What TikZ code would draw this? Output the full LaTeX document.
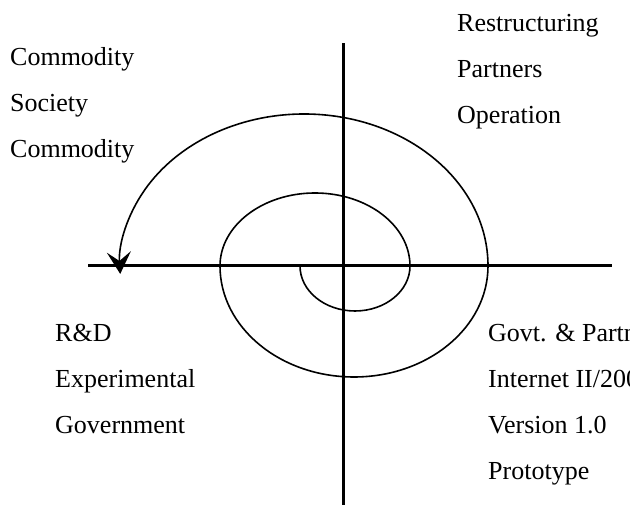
\documentclass[tikz,border=0pt]{standalone}
\usepackage{fontspec}
\setmainfont{Liberation Serif}
\usepackage{tikz}
\usetikzlibrary{arrows.meta}

\begin{document}
\begin{tikzpicture}[x=1pt,y=1pt,
    axisline/.style={line width=3pt,color=black},
    spiral/.style={line width=1.6pt,color=black},
    lbl/.style={anchor=base west,align=left,inner sep=0pt,font=\fontsize{26}{46}\selectfont}]
  \useasboundingbox (0,0) rectangle (630,505);
  % axes
  \draw[axisline] (88,239) -- (612,239);
  \draw[axisline] (343,0) -- (343,462);
  % spiral
  \draw[spiral,-{Stealth[length=22pt,width=24pt,inset=9pt]}] (300,239)
    arc[start angle=180,end angle=360,x radius=55,y radius=45]
    arc[start angle=0,end angle=180,x radius=95,y radius=73]
    arc[start angle=180,end angle=360,x radius=134,y radius=111]
    arc[start angle=0,end angle=183,x radius=184,y radius=152];
  % quadrant labels (anchored at last line)
  \node[lbl] (topleft) at (10,347) {Commodity\\Society\\Commodity};
  \node[lbl] (topright) at (457,381) {Restructuring\\Partners\\Operation};
  \node[lbl] (botleft) at (55,71) {R\&D\\Experimental\\Government};
  \node[lbl] (botright) at (488,25) {Govt. \& Partn\\Internet II/200\\Version 1.0\\Prototype};
\end{tikzpicture}
\end{document}
